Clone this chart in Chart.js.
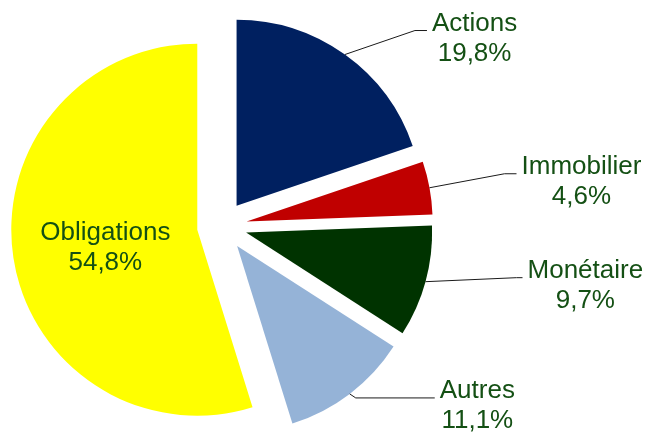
<!DOCTYPE html>
<html lang="fr">
<head>
<meta charset="UTF-8">
<title>Répartition du portefeuille</title>
<script src="https://cdn.jsdelivr.net/npm/chart.js"></script>
<style>
  html, body { margin: 0; background: #fff; }
</style>
</head>
<body>
<canvas id="pie" width="647" height="432"></canvas>
<script>
const categories = ['Actions', 'Immobilier', 'Monétaire', 'Autres', 'Obligations'];
const shares = [19.8, 4.6, 9.7, 11.1, 54.8];
const sliceColors = ['#002060', '#C00000', '#003300', '#95B3D7', '#FFFF00'];
// leader line per label: elbow offset from the slice edge, then a short flat tail (null = label inside)
const leaders = [
  { dx: 70, dy: -24, tail: 12 },
  { dx: 75, dy: -14, tail: 12 },
  { dx: 91, dy: -4, tail: 6 },
  { dx: 6, dy: 4, tail: 79 },
  null
];
const EXPLODE = 25;
const fmt = v => v.toFixed(1).replace('.', ',') + '%';

// pull every slice out along its bisector, then draw labels + leader lines
const explodeLabels = {
  id: 'explodeLabels',
  beforeDatasetsDraw(chart) {
    chart.getDatasetMeta(0).data.forEach(arc => {
      const mid = (arc.startAngle + arc.endAngle) / 2;
      arc._home = [arc.x, arc.y];
      arc.x += Math.cos(mid) * EXPLODE;
      arc.y += Math.sin(mid) * EXPLODE;
    });
  },
  afterDatasetsDraw(chart) {
    const ctx = chart.ctx;
    ctx.save();
    ctx.font = '26px "Liberation Sans", Arial, sans-serif';
    ctx.fillStyle = '#145014';
    ctx.strokeStyle = '#1a1a1a';
    ctx.lineWidth = 1;
    ctx.textAlign = 'center';
    ctx.textBaseline = 'alphabetic';
    chart.getDatasetMeta(0).data.forEach((arc, i) => {
      const mid = (arc.startAngle + arc.endAngle) / 2;
      const cos = Math.cos(mid), sin = Math.sin(mid);
      const lines = [categories[i], fmt(shares[i])];
      const lead = leaders[i];
      if (!lead) {
        const r = arc.outerRadius / 2;
        const x = arc.x + cos * r, y = arc.y + sin * r;
        ctx.fillText(lines[0], x, y - 4);
        ctx.fillText(lines[1], x, y + 26);
      } else {
        const mx = arc.x + cos * arc.outerRadius, my = arc.y + sin * arc.outerRadius;
        const ex = mx + lead.dx, ey = my + lead.dy, hx = ex + lead.tail;
        ctx.beginPath();
        ctx.moveTo(mx, my); ctx.lineTo(ex, ey); ctx.lineTo(hx, ey);
        ctx.stroke();
        const w = Math.max(...lines.map(t => ctx.measureText(t).width));
        const cx = hx + 5 + w / 2;
        ctx.fillText(lines[0], cx, ey);
        ctx.fillText(lines[1], cx, ey + 30);
      }
      arc.x = arc._home[0]; arc.y = arc._home[1];
    });
    ctx.restore();
  }
};

new Chart(document.getElementById('pie'), {
  type: 'pie',
  data: {
    labels: categories,
    datasets: [{
      data: shares,
      backgroundColor: sliceColors,
      borderWidth: 0,
      radius: 186,
      clip: false
    }]
  },
  options: {
    responsive: false,
    animation: false,
    events: [],
    layout: { padding: { left: 0, right: 203, top: 20, bottom: 0 } },
    plugins: { legend: { display: false }, tooltip: { enabled: false } }
  },
  plugins: [explodeLabels]
});
</script>
</body>
</html>
